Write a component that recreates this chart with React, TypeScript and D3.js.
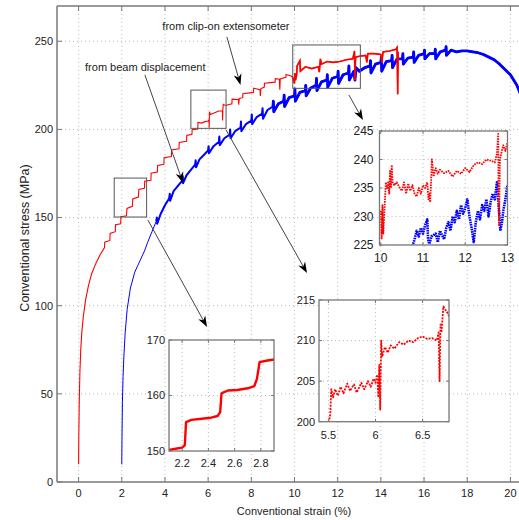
import React from 'react';
import * as d3 from 'd3';

type P = [number, number];

const W = 519;
const H = 520;

// main axes ticks
const xTicks = [0, 2, 4, 6, 8, 10, 12, 14, 16, 18, 20];
const yTicks = [0, 50, 100, 150, 200, 250];

// red: from clip-on extensometer (strain %, stress MPa)
const redCurve: P[] = [
  [0, 10], [0.01, 25], [0.03, 45], [0.06, 62], [0.1, 75], [0.15, 85], [0.22, 94], [0.32, 103],
  [0.45, 111], [0.6, 118], [0.8, 124], [1.0, 129], [1.2, 133], [1.21, 136], [1.45, 137], [1.46, 141],
  [1.7, 142], [1.71, 146], [1.95, 146.5], [1.96, 150.5], [2.22, 151], [2.24, 155.2], [2.49, 156.4],
  [2.51, 160.6], [2.77, 161.6], [2.79, 166], [3.05, 166.6], [3.06, 170.6], [3.35, 171.2], [3.36, 175.2],
  [3.65, 175.8], [3.66, 179.6], [3.95, 180.2], [3.96, 184], [4.3, 184.6], [4.31, 188.4], [4.65, 189],
  [4.66, 192.6], [5.0, 193.2], [5.01, 196.6], [5.25, 197.2], [5.26, 199.8], [5.52, 200.2], [5.53, 204],
  [5.7, 203.6], [5.85, 204.4], [6.0, 204.8], [6.04, 205.5], [6.05, 201], [6.06, 210], [6.1, 208.5],
  [6.3, 209.5], [6.5, 210.4], [6.66, 210.4], [6.67, 205], [6.68, 211], [6.7, 214.2], [6.8, 213.6],
  [7.1, 214.5], [7.11, 217.2], [7.4, 217], [7.42, 214], [7.44, 217.5], [7.6, 218], [7.61, 220.3],
  [8.1, 221], [8.11, 223.4], [8.4, 222.5], [8.42, 219], [8.44, 223], [8.6, 224], [8.61, 226.2],
  [9.1, 226.8], [9.11, 228.8], [9.3, 228.5], [9.32, 222.5], [9.34, 228.6], [9.6, 229.5], [9.61, 231.2],
  [9.9, 230], [10.0, 226], [10.02, 232], [10.05, 228], [10.1, 231], [10.12, 236], [10.25, 239],
  [10.27, 233], [10.5, 235.5], [10.8, 234.5], [11.1, 235.5], [11.15, 232.5], [11.2, 240], [11.25, 237],
  [11.5, 238.5], [11.8, 238], [12.1, 238.5], [12.4, 239.5], [12.7, 240], [12.78, 244.5], [12.8, 228],
  [12.83, 241], [13.0, 241.5], [13.3, 242], [13.35, 238], [13.4, 243], [13.7, 243], [14.0, 242.5],
  [14.05, 238], [14.1, 244], [14.4, 244.5], [14.7, 245.5], [14.75, 246.5], [14.78, 220], [14.8, 244],
];

// blue: from beam displacement
const blueCurve: P[] = [
  [2, 10], [2.01, 25], [2.03, 45], [2.06, 60], [2.1, 72], [2.16, 85], [2.25, 98], [2.4, 110], [2.6, 119],
  [2.75, 123], [2.9, 127], [3.05, 131], [3.2, 136], [3.4, 142], [3.6, 148], [3.62, 150], [3.64, 146.5],
  [3.8, 152], [4.0, 157], [4.2, 161], [4.22, 163.5], [4.24, 159.5], [4.4, 165], [4.6, 168], [4.8, 171],
  [4.82, 173.5], [4.84, 169.5], [5.0, 174], [5.2, 177], [5.4, 180], [5.42, 182.5], [5.44, 178.5], [5.6, 183],
  [5.8, 185.5], [6.0, 188], [6.02, 190.5], [6.04, 186.5], [6.25, 190.5], [6.5, 193], [6.52, 196], [6.54, 191],
  [6.75, 195], [7.0, 197], [7.02, 200], [7.04, 195], [7.25, 199], [7.5, 201], [7.52, 204.5], [7.54, 199],
  [7.75, 203], [8.0, 205], [8.02, 208.5], [8.04, 203], [8.25, 207], [8.5, 209], [8.52, 212], [8.54, 206],
  [8.75, 211], [9.0, 213], [9.02, 216], [9.04, 210], [9.25, 214.5], [9.5, 216], [9.52, 219.5], [9.54, 213],
  [9.75, 218], [10.0, 219], [10.02, 223], [10.04, 216], [10.25, 221], [10.5, 222], [10.52, 225], [10.54, 219],
  [10.75, 223.5], [11.0, 225], [11.02, 229], [11.04, 222], [11.25, 227], [11.5, 228], [11.52, 231],
  [11.54, 224], [11.75, 229], [12.0, 230], [12.02, 233], [12.04, 226], [12.25, 231], [12.5, 232],
  [12.52, 236], [12.54, 228], [12.75, 233], [12.8, 228], [12.85, 235], [13.0, 233], [13.25, 235],
  [13.5, 236], [13.52, 239], [13.54, 232], [13.75, 237], [14.0, 238], [14.02, 241], [14.04, 233],
  [14.25, 238.5], [14.5, 239], [14.52, 242], [14.54, 235], [14.75, 240], [15.0, 240], [15.02, 243],
  [15.04, 237], [15.25, 240.5], [15.5, 241], [15.52, 244], [15.54, 238], [15.75, 242], [16.0, 243],
  [16.02, 245], [16.04, 240], [16.25, 243], [16.5, 243], [16.52, 245.5], [16.54, 240], [16.75, 244],
  [17.0, 245], [17.02, 247], [17.04, 242], [17.25, 245], [17.5, 244], [17.75, 244.5], [18.0, 244.5],
  [18.25, 244], [18.5, 243.5], [18.75, 242.5], [19.0, 241], [19.25, 239.5], [19.5, 237], [19.75, 234],
  [20.0, 231], [20.3, 225], [20.6, 216], [21, 205],
];

// insets
const inset1Red: P[] = [
  [2.1, 150.2], [2.15, 150.4], [2.2, 150.6], [2.22, 151], [2.225, 153], [2.23, 155.2], [2.27, 155.6],
  [2.35, 155.8], [2.42, 156], [2.47, 156.3], [2.49, 157], [2.5, 160.4], [2.52, 160.6], [2.55, 160.9],
  [2.62, 161], [2.7, 161.3], [2.75, 161.7], [2.77, 163], [2.79, 166], [2.85, 166.3], [2.9, 166.5],
];
const inset1XTicks = [2.2, 2.4, 2.6, 2.8];
const inset1YTicks = [150, 160, 170];

const inset2Red: P[] = [
  [5.5, 199.5], [5.52, 201], [5.53, 204], [5.55, 203], [5.57, 204], [5.6, 203.2], [5.63, 204.3],
  [5.66, 203.5], [5.7, 204.7], [5.73, 203.8], [5.77, 204.6], [5.8, 203.6], [5.85, 204.8], [5.88, 204],
  [5.92, 205], [5.95, 204.3], [5.98, 205.3], [6.0, 204.8], [6.02, 205.8], [6.03, 203], [6.04, 207],
  [6.05, 201.5], [6.06, 210], [6.07, 208], [6.1, 209.2], [6.13, 208.5], [6.16, 209.4], [6.2, 209],
  [6.25, 209.8], [6.3, 209.5], [6.35, 210], [6.4, 209.8], [6.45, 210.3], [6.5, 210.5], [6.55, 210.2],
  [6.6, 210.3], [6.65, 210], [6.67, 211], [6.68, 205], [6.69, 212], [6.7, 211], [6.72, 214.2],
  [6.74, 213.8], [6.76, 213.5], [6.78, 213],
];
const inset2XTicks = [5.5, 6, 6.5];
const inset2YTicks = [200, 205, 210, 215];

const inset3Red: P[] = [
  [10.0, 231], [10.02, 226], [10.04, 232], [10.06, 227], [10.08, 230], [10.1, 233], [10.12, 236],
  [10.15, 235], [10.18, 236.2], [10.2, 234], [10.22, 238], [10.24, 235], [10.26, 239], [10.28, 236],
  [10.32, 235.5], [10.38, 236], [10.45, 235], [10.5, 234.5], [10.55, 236], [10.6, 234], [10.65, 235.8],
  [10.7, 234.5], [10.75, 235.5], [10.8, 234], [10.85, 233.5], [10.9, 235], [10.95, 234], [11.0, 235.5],
  [11.05, 235], [11.1, 236], [11.13, 233], [11.15, 234], [11.17, 232.5], [11.19, 236], [11.21, 240],
  [11.25, 237], [11.3, 238.5], [11.35, 237.5], [11.4, 238.2], [11.5, 237.6], [11.6, 238], [11.7, 237],
  [11.8, 238], [11.9, 237.5], [12.0, 238.5], [12.1, 237.8], [12.2, 239], [12.3, 239.5], [12.4, 239.2],
  [12.5, 240], [12.6, 239.8], [12.7, 239.5], [12.75, 241], [12.78, 244.5], [12.79, 232], [12.8, 228.5],
  [12.82, 240], [12.85, 241], [12.9, 242.5], [12.95, 241.5], [13.0, 243],
];
const inset3Blue: P[] = [
  [10.75, 224.8], [10.8, 226], [10.85, 227.5], [10.9, 226.5], [10.95, 228], [11.0, 227], [11.05, 228.5],
  [11.1, 229.5], [11.12, 226], [11.15, 225.2], [11.2, 226.5], [11.3, 227], [11.35, 225.5], [11.4, 227.5],
  [11.5, 226], [11.55, 228], [11.6, 229], [11.65, 227.5], [11.7, 230], [11.75, 229], [11.8, 231],
  [11.85, 229.5], [11.9, 232], [11.95, 230.5], [12.0, 231.5], [12.05, 233], [12.1, 230], [12.15, 228],
  [12.2, 225.5], [12.25, 229], [12.3, 231], [12.35, 229.5], [12.4, 232], [12.45, 231], [12.5, 233],
  [12.55, 230], [12.6, 232.5], [12.65, 234], [12.7, 233], [12.75, 236], [12.8, 231], [12.83, 227.5],
  [12.87, 229], [12.9, 231], [12.95, 233], [13.0, 235.5],
];
const inset3XTicks = [10, 11, 12, 13];
const inset3YTicks = [225, 230, 235, 240, 245];

// zoom boxes on main chart (data coords)
const zoomBoxes = [
  { x0: 1.65, x1: 3.15, y0: 150.3, y1: 172.4 },
  { x0: 5.2, x1: 6.83, y0: 200.6, y1: 222.3 },
  { x0: 9.92, x1: 13.05, y0: 223.3, y1: 247.9 },
];
// arrows: [from, to] in data coords
const arrows: [P, P][] = [
  [[6.87, 252.4], [7.5, 225.2]],
  [[3.07, 230.9], [4.84, 169.6]],
  [[3.21, 148.6], [5.95, 87.9]],
  [[6.83, 199.7], [10.58, 118.5]],
  [[12.52, 219.5], [13.17, 205.3]],
];
const labels = [
  { text: 'from clip-on extensometer', x: 3.88, y: 256.5 },
  { text: 'from beam displacement', x: 0.3, y: 233 },
];

const FONT = '"Liberation Sans", Arial, Helvetica, sans-serif';
const TXT = '#222';
const FRAME = '#777';
const GRID = '#aaa';

const xS = d3.scaleLinear().domain([-1, 21]).range([57, 532]);
const yS = d3.scaleLinear().domain([0, 270]).range([482, 6]);

function Arrow({ from, to }: { from: P; to: P }) {
  const x1 = xS(from[0]), y1 = yS(from[1]);
  const x2 = xS(to[0]), y2 = yS(to[1]);
  const dx = x2 - x1, dy = y2 - y1;
  const len = Math.hypot(dx, dy);
  const ux = dx / len, uy = dy / len;
  const nx = -uy, ny = ux;
  const L = 11, Wd = 4;
  const bx = x2 - ux * L, by = y2 - uy * L;
  const mx = x2 - ux * L * 0.7, my = y2 - uy * L * 0.7;
  const pts = [
    [x2, y2], [bx + nx * Wd, by + ny * Wd], [mx, my], [bx - nx * Wd, by - ny * Wd],
  ].map((p) => p.join(',')).join(' ');
  return (
    <g>
      <line x1={x1} y1={y1} x2={mx} y2={my} stroke="#444" strokeWidth={1} />
      <polygon points={pts} fill="#000" />
    </g>
  );
}

type Series = { data: P[]; color: string; width: number; dash?: string };

function Inset(props: {
  id: string;
  left: number; top: number; right: number; bottom: number;
  xDomain: [number, number]; yDomain: [number, number];
  xTicks: number[]; yTicks: number[];
  series: Series[]; fontSize: number; xLabelGap: number; yLabelGap: number;
}) {
  const { id, left, top, right, bottom, xDomain, yDomain, series, fontSize } = props;
  const xs = d3.scaleLinear().domain(xDomain).range([left, right]);
  const ys = d3.scaleLinear().domain(yDomain).range([bottom, top]);
  const line = d3.line<P>().x((d) => xs(d[0])).y((d) => ys(d[1]));
  const innerX = props.xTicks.filter((t) => xs(t) > left + 2 && xs(t) < right - 2);
  const innerY = props.yTicks.filter((t) => ys(t) > top + 2 && ys(t) < bottom - 2);
  return (
    <g>
      <defs>
        <clipPath id={id}>
          <rect x={left} y={top} width={right - left} height={bottom - top} />
        </clipPath>
      </defs>
      <rect x={left} y={top} width={right - left} height={bottom - top} fill="#fff" />
      {innerX.map((t) => (
        <line key={'gx' + t} x1={xs(t)} x2={xs(t)} y1={top} y2={bottom} stroke={GRID} strokeWidth={0.8} strokeDasharray="1,3" />
      ))}
      {innerY.map((t) => (
        <line key={'gy' + t} x1={left} x2={right} y1={ys(t)} y2={ys(t)} stroke={GRID} strokeWidth={0.8} strokeDasharray="1,3" />
      ))}
      <g clipPath={`url(#${id})`}>
        {series.map((s, i) => (
          <path key={i} d={line(s.data) || ''} fill="none" stroke={s.color} strokeWidth={s.width}
            strokeDasharray={s.dash} strokeLinejoin="round" />
        ))}
      </g>
      {props.xTicks.map((t) => (
        <g key={'tx' + t}>
          <line x1={xs(t)} x2={xs(t)} y1={bottom} y2={bottom - 3} stroke={FRAME} />
          <line x1={xs(t)} x2={xs(t)} y1={top} y2={top + 3} stroke={FRAME} />
          <text x={xs(t)} y={bottom + props.xLabelGap} textAnchor="middle" fontSize={fontSize} fill={TXT} fontFamily={FONT}>
            {String(t)}
          </text>
        </g>
      ))}
      {props.yTicks.map((t) => (
        <g key={'ty' + t}>
          <line x1={left} x2={left + 3} y1={ys(t)} y2={ys(t)} stroke={FRAME} />
          <line x1={right} x2={right - 3} y1={ys(t)} y2={ys(t)} stroke={FRAME} />
          <text x={left - props.yLabelGap} y={ys(t)} dy="0.35em" textAnchor="end" fontSize={fontSize} fill={TXT} fontFamily={FONT}>
            {String(t)}
          </text>
        </g>
      ))}
      <rect x={left} y={top} width={right - left} height={bottom - top} fill="none" stroke={FRAME} strokeWidth={1.3} />
    </g>
  );
}

export default function App() {
  const line = d3.line<P>().x((d) => xS(d[0])).y((d) => yS(d[1]));
  const plotL = 57, plotT = 6, plotB = 482;
  return (
    <svg width={W} height={H} style={{ position: 'absolute', left: 0, top: 0, background: '#fff' }}
      xmlns="http://www.w3.org/2000/svg">
      <defs>
        <clipPath id="mainclip">
          <rect x={plotL} y={plotT} width={W - plotL} height={plotB - plotT} />
        </clipPath>
      </defs>
      <rect x={0} y={0} width={W} height={H} fill="#fff" />
      {/* grid */}
      {xTicks.map((t) => (
        <line key={'gx' + t} x1={xS(t)} x2={xS(t)} y1={plotT} y2={plotB} stroke={GRID} strokeWidth={0.8} strokeDasharray="1,3" />
      ))}
      {yTicks.filter((t) => t > 0).map((t) => (
        <line key={'gy' + t} x1={plotL} x2={W} y1={yS(t)} y2={yS(t)} stroke={GRID} strokeWidth={0.8} strokeDasharray="1,3" />
      ))}
      {/* curves */}
      <g clipPath="url(#mainclip)">
        <path d={line(blueCurve) || ''} fill="none" stroke="#0000ff" strokeWidth={1} />
        <path d={line(blueCurve.filter((d) => d[0] >= 3.6)) || ''} fill="none" stroke="#0000ff" strokeWidth={2} strokeLinejoin="round" />
        <path d={line(blueCurve.filter((d) => d[0] >= 9)) || ''} fill="none" stroke="#0000ff" strokeWidth={2.8} strokeLinejoin="round" />
        <path d={line(redCurve) || ''} fill="none" stroke="#ff0000" strokeWidth={1.1} />
        <path d={line(redCurve.filter((d) => d[0] >= 9.9)) || ''} fill="none" stroke="#ff0000" strokeWidth={1.6} />
      </g>
      {/* zoom boxes */}
      {zoomBoxes.map((b, i) => (
        <rect key={'zb' + i} x={xS(b.x0)} y={yS(b.y1)} width={xS(b.x1) - xS(b.x0)} height={yS(b.y0) - yS(b.y1)}
          fill="none" stroke="#555" strokeWidth={1} />
      ))}
      {arrows.map((a, i) => <Arrow key={'ar' + i} from={a[0]} to={a[1]} />)}
      {labels.map((l, i) => (
        <text key={'lb' + i} x={xS(l.x)} y={yS(l.y)} fontSize={11} fill={TXT} fontFamily={FONT}>{l.text}</text>
      ))}
      {/* insets */}
      <Inset id="in1" left={169} top={340} right={274} bottom={451} xDomain={[2.1, 2.9]} yDomain={[150, 170]}
        xTicks={inset1XTicks} yTicks={inset1YTicks} fontSize={11} xLabelGap={16} yLabelGap={4}
        series={[{ data: inset1Red, color: '#ff0000', width: 2.4 }]} />
      <Inset id="in2" left={319} top={300} right={449} bottom={421.7} xDomain={[5.4, 6.78]} yDomain={[200, 215]}
        xTicks={inset2XTicks} yTicks={inset2YTicks} fontSize={11} xLabelGap={17} yLabelGap={4}
        series={[{ data: inset2Red, color: '#ff0000', width: 1.8, dash: '2,1.2' }]} />
      <Inset id="in3" left={379.5} top={131} right={507.5} bottom={245} xDomain={[9.97, 13]} yDomain={[225, 245]}
        xTicks={inset3XTicks} yTicks={inset3YTicks} fontSize={12} xLabelGap={17} yLabelGap={6}
        series={[
          { data: inset3Blue, color: '#0000ff', width: 2.6, dash: '1.6,0.8' },
          { data: inset3Red, color: '#ff0000', width: 1.8, dash: '1.6,1' },
        ]} />
      {/* main frame */}
      <line x1={plotL} x2={plotL} y1={plotT} y2={plotB} stroke={FRAME} strokeWidth={1.5} />
      <line x1={plotL} x2={W} y1={plotT} y2={plotT} stroke={FRAME} strokeWidth={1.5} />
      <line x1={plotL} x2={W} y1={plotB} y2={plotB} stroke={FRAME} strokeWidth={1.5} />
      {xTicks.map((t) => (
        <g key={'tx' + t}>
          <line x1={xS(t)} x2={xS(t)} y1={plotB} y2={plotB - 5} stroke={FRAME} />
          <line x1={xS(t)} x2={xS(t)} y1={plotT} y2={plotT + 5} stroke={FRAME} />
          <text x={xS(t)} y={497} textAnchor="middle" fontSize={11} fill={TXT} fontFamily={FONT}>{String(t)}</text>
        </g>
      ))}
      {yTicks.map((t) => (
        <g key={'ty' + t}>
          <line x1={plotL} x2={plotL + 5} y1={yS(t)} y2={yS(t)} stroke={FRAME} />
          <text x={53} y={yS(t)} dy="0.35em" textAnchor="end" fontSize={11} fill={TXT} fontFamily={FONT}>{String(t)}</text>
        </g>
      ))}
      <text x={294} y={515} textAnchor="middle" fontSize={11} fill={TXT} fontFamily={FONT}>Conventional strain (%)</text>
      <text transform="translate(29,238) rotate(-90)" textAnchor="middle" fontSize={12.5} fill={TXT} fontFamily={FONT}>
        Conventional stress (MPa)
      </text>
    </svg>
  );
}
